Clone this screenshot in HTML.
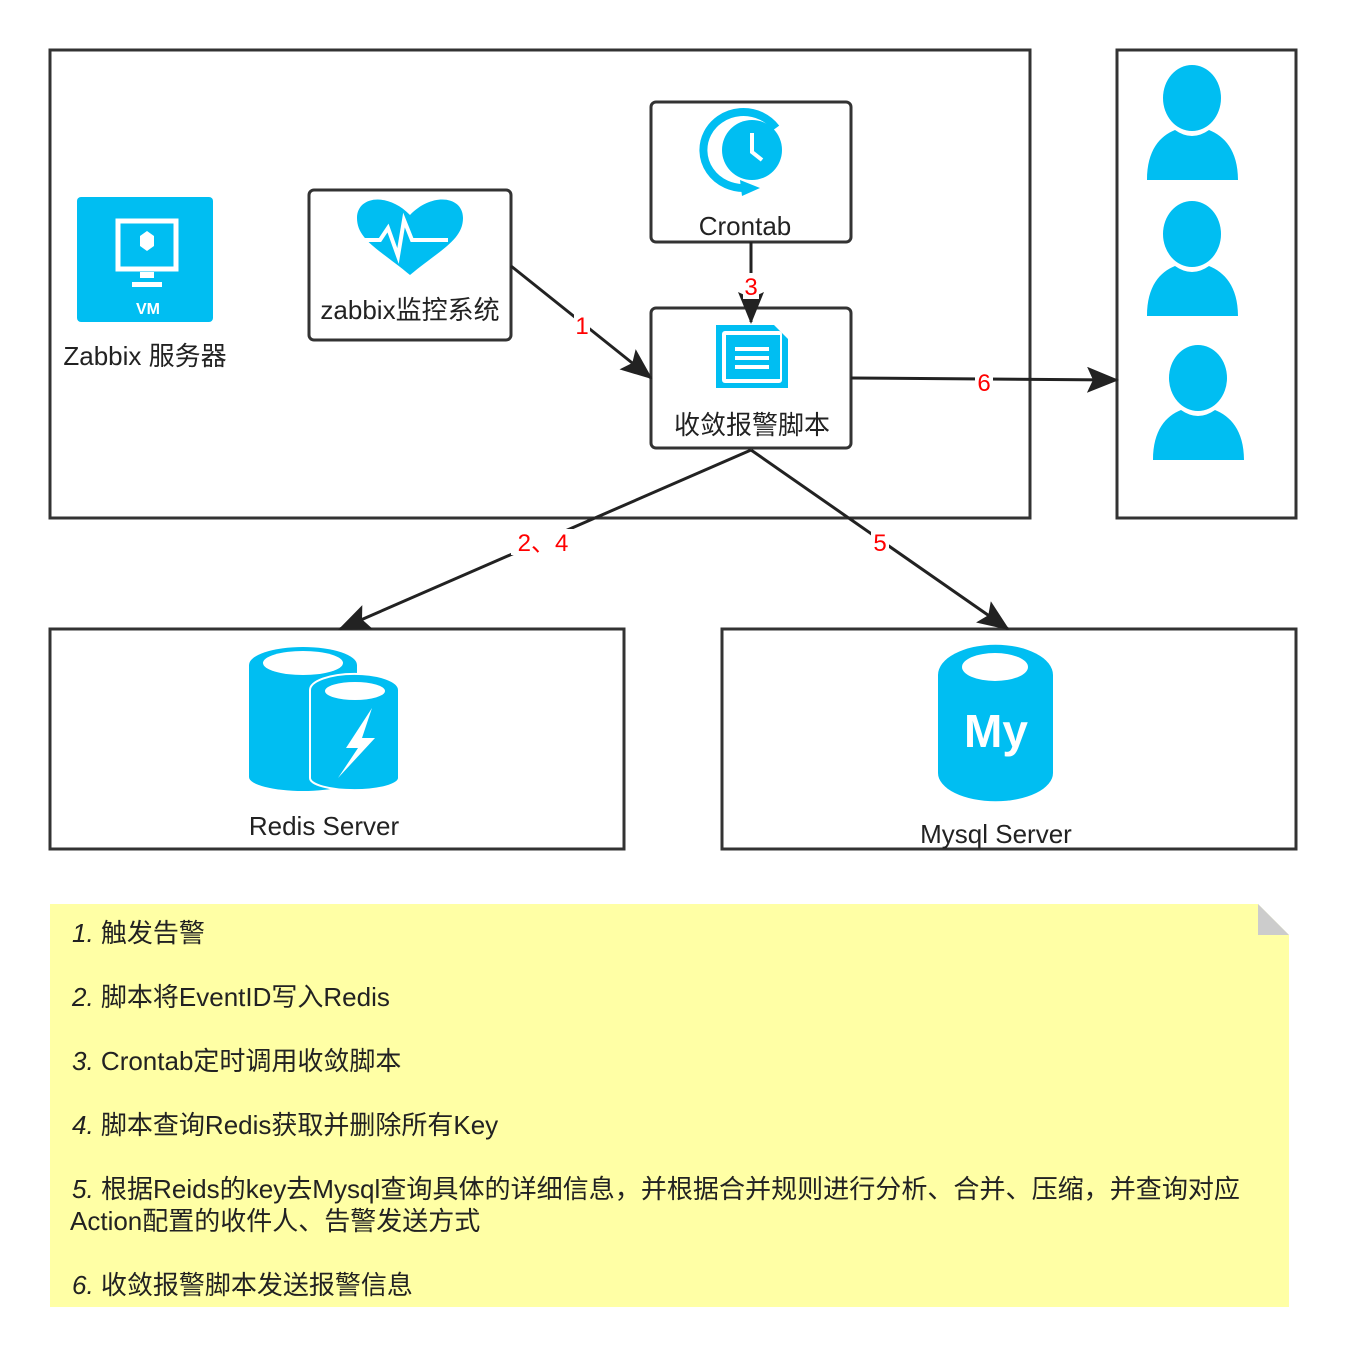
<!DOCTYPE html>
<html><head><meta charset="utf-8"><style>
body{margin:0;background:#fff;}
svg text{font-family:"Liberation Sans","Noto Sans CJK SC",sans-serif;}
</style></head><body>
<svg width="1346" height="1358" viewBox="0 0 1346 1358" xmlns="http://www.w3.org/2000/svg">
<defs>
<marker id="ab" markerWidth="32" markerHeight="26" refX="30" refY="13" orient="auto" markerUnits="userSpaceOnUse"><path d="M0,0 L32,13 L0,26 L6,13 Z" fill="#222"/></marker></defs>
<g fill="none" stroke="#333" stroke-width="3">
<rect x="50" y="50" width="980" height="468"/>
<rect x="1117" y="50" width="179" height="468"/>
<rect x="50" y="629" width="574" height="220"/>
<rect x="722" y="629" width="574" height="220"/>
<rect x="309" y="190" width="202" height="150" rx="5"/>
<rect x="651" y="102" width="200" height="140" rx="5"/>
<rect x="651" y="308" width="200" height="140" rx="5"/>
</g>
<g stroke="#222" stroke-width="3" fill="none">
<line x1="511" y1="266" x2="651" y2="378" marker-end="url(#ab)"/>
<line x1="751" y1="242" x2="751" y2="322" marker-end="url(#ab)"/>
<line x1="851" y1="378" x2="1117" y2="380" marker-end="url(#ab)"/>
<line x1="751" y1="450" x2="340" y2="629" marker-end="url(#ab)"/>
<line x1="751" y1="450" x2="1008" y2="629" marker-end="url(#ab)"/>
</g>
<g font-size="24" fill="#f00" text-anchor="middle">
<rect x="574" y="312" width="16" height="26" fill="#fff"/><text x="582" y="334">1</text>
<rect x="743" y="273" width="16" height="26" fill="#fff"/><text x="751" y="295">3</text>
<rect x="975" y="369" width="18" height="26" fill="#fff"/><text x="984" y="391">6</text>
<rect x="511" y="529" width="66" height="26" fill="#fff"/><text x="543" y="551">2、4</text>
<rect x="871" y="529" width="18" height="26" fill="#fff"/><text x="880" y="551">5</text>
</g>
<rect x="77" y="197" width="136" height="125" rx="4" fill="#00BEF2"/>
<rect x="118" y="221" width="58" height="48" fill="none" stroke="#fff" stroke-width="5"/>
<path d="M140 278h14v-6h-14zM132 282h30v5h-30z" fill="#fff"/>
<path d="M140 236 l7-5 7 5 v10 l-7 5 -7-5z" fill="#fff"/>
<text x="148" y="314" font-size="16" fill="#fff" text-anchor="middle" font-weight="bold">VM</text>
<text x="145" y="365" font-size="26" fill="#222" text-anchor="middle">Zabbix 服务器</text>
<path d="M410 275 C380 250 357 240 357 218 C357 196 388 192 410 215 C432 192 463 196 463 218 C463 240 440 250 410 275Z" fill="#00BEF2"/>
<polyline points="362,240 380,240 388,228 398,256 404,220 412,240 448,240" fill="none" stroke="#fff" stroke-width="4"/>
<text x="410" y="319" font-size="26" fill="#222" text-anchor="middle">zabbix监控系统</text>
<path d="M745 188 A40 38 0 1 1 776 128" fill="none" stroke="#00BEF2" stroke-width="8"/>
<polygon points="740,180 760,188 742,196" fill="#00BEF2"/>
<circle cx="752" cy="150" r="30" fill="#00BEF2"/>
<polyline points="752,133 752,152 762,160" fill="none" stroke="#fff" stroke-width="4"/>
<text x="745" y="235" font-size="26" fill="#222" text-anchor="middle">Crontab</text>
<path d="M716 325 h58 l14 14 v49 h-72z" fill="#00BEF2"/>
<rect x="722" y="331" width="60" height="52" rx="3" fill="#fff"/>
<rect x="726" y="335" width="54" height="44" fill="#00BEF2"/>
<g fill="#fff"><rect x="735" y="347" width="34" height="4"/><rect x="735" y="356" width="34" height="4"/><rect x="735" y="365" width="34" height="4"/></g>
<text x="752" y="434" font-size="26" fill="#222" text-anchor="middle">收敛报警脚本</text>
<g fill="#00BEF2">
<g><ellipse cx="1192" cy="98" rx="29" ry="33"/><path d="M1147 180 C1147 150 1160 136 1175 130 Q1192 142 1209 130 C1224 136 1238 150 1238 180Z"/></g>
<g transform="translate(0,136)"><ellipse cx="1192" cy="98" rx="29" ry="33"/><path d="M1147 180 C1147 150 1160 136 1175 130 Q1192 142 1209 130 C1224 136 1238 150 1238 180Z"/></g>
<g transform="translate(6,280)"><ellipse cx="1192" cy="98" rx="29" ry="33"/><path d="M1147 180 C1147 150 1160 136 1175 130 Q1192 142 1209 130 C1224 136 1238 150 1238 180Z"/></g>
</g>
<path d="M249 665 a54 18 0 0 1 108 0 v112 a54 14 0 0 1 -108 0z" fill="#00BEF2"/>
<ellipse cx="303" cy="663" rx="40" ry="12" fill="#fff"/>
<path d="M310 690 a44 16 0 0 1 89 0 v88 a44 12 0 0 1 -89 0z" fill="#00BEF2" stroke="#fff" stroke-width="2"/>
<ellipse cx="355" cy="691" rx="30" ry="9" fill="#fff"/>
<polygon points="372,708 346,748 358,748 338,778 375,738 362,738" fill="#fff"/>
<text x="324" y="835" font-size="26" fill="#222" text-anchor="middle">Redis Server</text>
<path d="M938 675 a57 30 0 0 1 115 0 v98 a57 28 0 0 1 -115 0z" fill="#00BEF2"/>
<ellipse cx="995" cy="667" rx="33" ry="14" fill="#fff"/>
<text x="996" y="747" font-size="46" font-weight="bold" fill="#fff" text-anchor="middle">My</text>
<text x="996" y="843" font-size="26" fill="#222" text-anchor="middle">Mysql Server</text>
<path d="M50 904 H1258 L1289 935 V1307 H50Z" fill="#FFFFA5"/>
<path d="M1258 904 L1289 935 H1258Z" fill="#ccc"/>
<g font-size="26" fill="#222">
<text x="72" y="942"><tspan font-style="italic">1.</tspan> 触发告警</text>
<text x="72" y="1006"><tspan font-style="italic">2.</tspan> 脚本将EventID写入Redis</text>
<text x="72" y="1070"><tspan font-style="italic">3.</tspan> Crontab定时调用收敛脚本</text>
<text x="72" y="1134"><tspan font-style="italic">4.</tspan> 脚本查询Redis获取并删除所有Key</text>
<text x="72" y="1198" textLength="1168" lengthAdjust="spacingAndGlyphs"><tspan font-style="italic">5.</tspan> 根据Reids的key去Mysql查询具体的详细信息，并根据合并规则进行分析、合并、压缩，并查询对应</text>
<text x="70" y="1230">Action配置的收件人、告警发送方式</text>
<text x="72" y="1294"><tspan font-style="italic">6.</tspan> 收敛报警脚本发送报警信息</text>
</g>
</svg>
</body></html>
